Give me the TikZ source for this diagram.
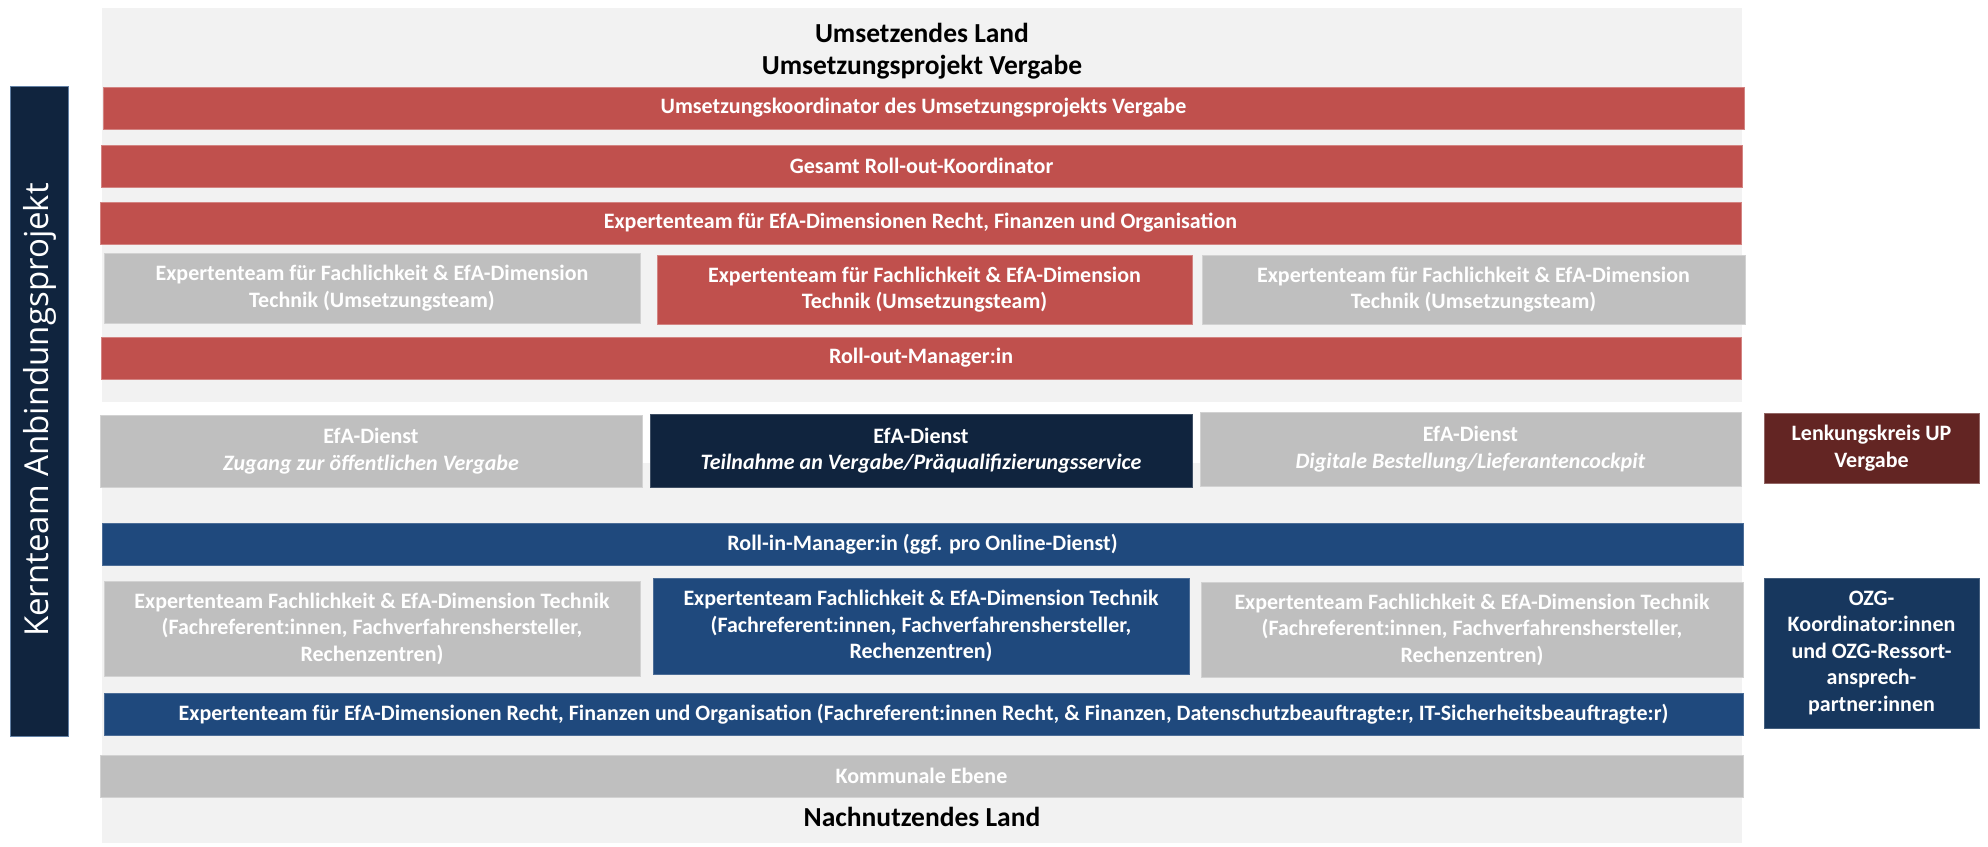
\documentclass[tikz,border=0pt]{standalone}
\usepackage{fontspec}
\setmainfont{Carlito}
\newfontfamily\osans{Open Sans}
\definecolor{bgc}{HTML}{F2F2F2}
\definecolor{redc}{HTML}{C0504D}
\definecolor{grayc}{HTML}{BFBFBF}
\definecolor{navyc}{HTML}{10243E}
\definecolor{bluec}{HTML}{1F497D}
\definecolor{ozgc}{HTML}{17375E}
\definecolor{lenkc}{HTML}{632523}
\newcommand\rbox[7]{\node[#6, minimum width={(#4-#2)*1pt}, minimum height={(#5-#3)*1pt}] (#1) at ({(#2+#4)/2},{(#3+#5)/2}) {#7};}
\tikzset{
  box/.style={inner sep=0pt, outer sep=0pt, align=center, text=white, line width=1pt,
    font=\bfseries\fontsize{22}{26.5}\selectfont},
  redbox/.style={box, fill=redc, draw=redc!70!white},
  graybox/.style={box, fill=grayc, draw=grayc!70!white},
  navybox/.style={box, fill=navyc, draw=navyc!80!white},
  bluebox/.style={box, fill=bluec, draw=bluec!80!white},
  ozgbox/.style={box, fill=ozgc, draw=ozgc!80!white},
  lenkbox/.style={box, fill=lenkc, draw=lenkc!70!white},
  bgbox/.style={inner sep=0pt, outer sep=0pt, fill=bgc},
  title/.style={inner sep=0pt, text=black, font=\bfseries\fontsize{27.5}{33}\selectfont},
}
\begin{document}
\begin{tikzpicture}[x=1pt, y=-1pt]
\useasboundingbox (0,0) rectangle (1988,846);
% backgrounds
\rbox{bgtop}{102}{8}{1742}{402}{bgbox}{}
\rbox{bgbot}{102}{463}{1742}{843}{bgbox}{}
% titles
\node[title] (t1) at (922,33) {Umsetzendes Land};
\node[title] (t2) at (922,67) {Umsetzungsprojekt Vergabe};
\node[title] (t3) at (922,817) {Nachnutzendes Land};
% left box
\rbox{kern}{10}{86}{68}{736}{box, fill=navyc, draw=bluec!70!white}{}
\node[rotate=90, text=white, inner sep=0pt, font=\osans\fontsize{33}{40}\selectfont] (kerntext) at (40,410) {Kernteam Anbindungsprojekt};
% upper red part
\rbox{r1}{103}{87}{1744}{129}{redbox}{Umsetzungskoordinator des Umsetzungsprojekts Vergabe}
\rbox{r2}{101}{145}{1742}{187}{redbox}{Gesamt Roll-out-Koordinator}
\rbox{r3}{100}{202}{1741}{244}{redbox}{Expertenteam für EfA-Dimensionen Recht, Finanzen und Organisation}
\rbox{g4a}{104}{253}{640}{323}{graybox}{Expertenteam für Fachlichkeit \& EfA-Dimension\\Technik (Umsetzungsteam)}
\rbox{r4b}{657}{255}{1192}{324}{redbox}{Expertenteam für Fachlichkeit \& EfA-Dimension\\Technik (Umsetzungsteam)}
\rbox{g4c}{1202}{255}{1745}{324}{graybox}{Expertenteam für Fachlichkeit \& EfA-Dimension\\Technik (Umsetzungsteam)}
\rbox{r5}{101}{337}{1741}{379}{redbox}{Roll-out-Manager:in}
% EfA services
\rbox{efa1}{100}{415}{642}{487}{graybox}{EfA-Dienst\\\textit{Zugang zur öffentlichen Vergabe}}
\rbox{efa2}{650}{414}{1192}{487}{navybox}{EfA-Dienst\\\textit{Teilnahme an Vergabe/Präqualifizierungsservice}}
\rbox{efa3}{1200}{412}{1741}{486}{graybox}{EfA-Dienst\\\textit{Digitale Bestellung/Lieferantencockpit}}
\rbox{lenk}{1764}{413}{1979}{483}{lenkbox}{Lenkungskreis UP\\Vergabe}
% lower blue part
\rbox{b1}{102}{523}{1743}{565}{bluebox}{Roll-in-Manager:in (ggf. pro Online-Dienst)}
\rbox{g6a}{104}{581}{640}{676}{graybox}{Expertenteam Fachlichkeit \& EfA-Dimension Technik\\(Fachreferent:innen, Fachverfahrenshersteller,\\Rechenzentren)}
\rbox{b6b}{653}{578}{1189}{674}{bluebox}{Expertenteam Fachlichkeit \& EfA-Dimension Technik\\(Fachreferent:innen, Fachverfahrenshersteller,\\Rechenzentren)}
\rbox{g6c}{1201}{582}{1743}{677}{graybox}{Expertenteam Fachlichkeit \& EfA-Dimension Technik\\(Fachreferent:innen, Fachverfahrenshersteller,\\Rechenzentren)}
\rbox{ozg}{1764}{578}{1979}{728}{ozgbox}{OZG-\\Koordinator:innen\\und OZG-Ressort-\\ansprech-\\partner:innen}
\rbox{b2}{104}{693}{1743}{735}{bluebox}{Expertenteam für EfA-Dimensionen Recht, Finanzen und Organisation (Fachreferent:innen Recht, \& Finanzen, Datenschutzbeauftragte:r, IT-Sicherheitsbeauftragte:r)}
\rbox{komm}{100}{755}{1743}{797}{graybox}{Kommunale Ebene}
\end{tikzpicture}
\end{document}
